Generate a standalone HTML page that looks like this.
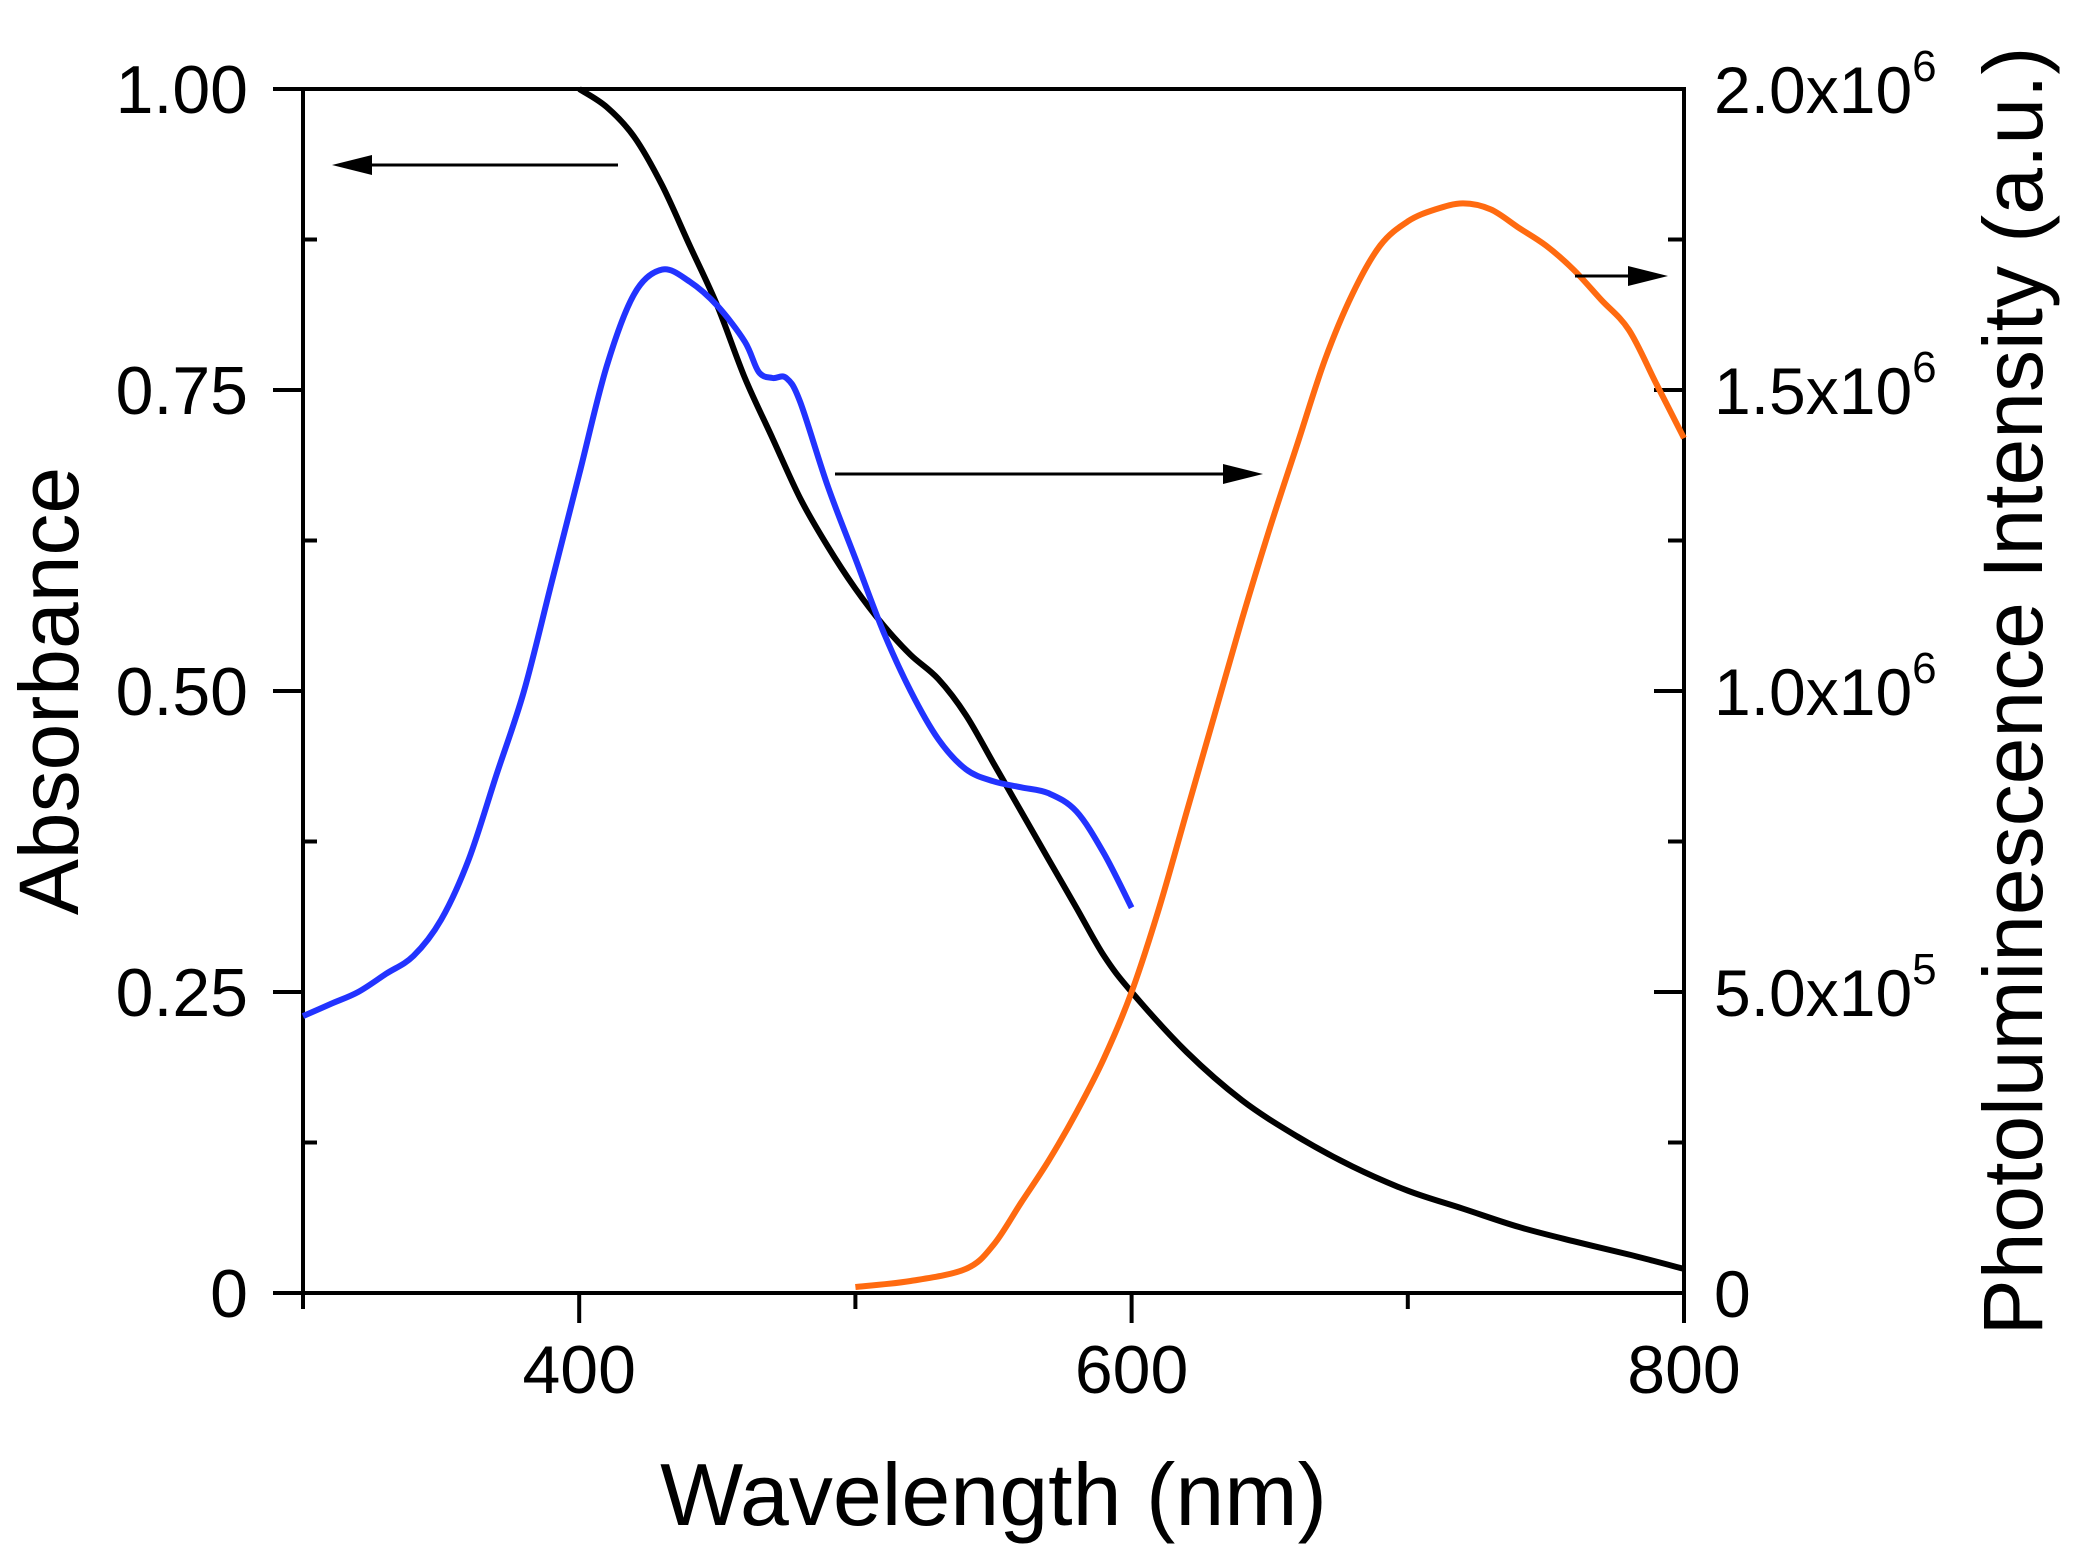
<!DOCTYPE html>
<html><head><meta charset="utf-8"><style>
html,body{margin:0;padding:0;background:#fff;}
svg{display:block;font-family:"Liberation Sans",Arial,sans-serif;}
</style></head><body>
<svg id="chart" width="2073" height="1557" viewBox="0 0 2073 1557" xmlns="http://www.w3.org/2000/svg">
<g id="axes"></g>
<g id="series"></g>
<g id="labels"></g>
</svg>
<script>
const xTicks=[400,600,800];
const xMinor=[300,500,700];
const absTicks=[0,0.25,0.5,0.75,1.0];
const absTickLabels=["0","0.25","0.50","0.75","1.00"];
const plTicks=[0,0.5,1.0,1.5,2.0];
const plTickMant=["0","5.0x10","1.0x10","1.5x10","2.0x10"];
const plTickExp=["","5","6","6","6"];
const absX=[400,410,420,430,440,450,460,470,480,490,500,510,520,530,540,550,560,570,580,590,600,620,640,660,680,700,720,740,760,780,800];
const absY=[1.0,0.985,0.96,0.92,0.87,0.82,0.76,0.71,0.66,0.62,0.585,0.555,0.53,0.51,0.48,0.44,0.40,0.36,0.32,0.28,0.25,0.20,0.16,0.13,0.105,0.085,0.07,0.055,0.043,0.032,0.02];
const exX=[300,310,320,330,340,350,360,370,380,390,400,410,420,430,440,450,460,465,470,475,480,490,500,510,520,530,540,550,560,570,580,590,600];
const exY=[0.23,0.24,0.25,0.265,0.28,0.31,0.36,0.43,0.50,0.59,0.68,0.77,0.83,0.85,0.84,0.82,0.79,0.765,0.76,0.76,0.74,0.67,0.61,0.55,0.50,0.46,0.435,0.425,0.42,0.415,0.40,0.365,0.32];
const plX=[500,520,540,550,560,570,580,590,600,610,620,630,640,650,660,670,680,690,700,710,720,730,740,750,760,770,780,790,800];
const plY=[0.01,0.02,0.04,0.08,0.15,0.22,0.30,0.39,0.50,0.64,0.80,0.96,1.12,1.27,1.41,1.55,1.66,1.74,1.78,1.80,1.81,1.80,1.77,1.74,1.70,1.65,1.60,1.51,1.42];

const L=303,R=1684,T=89,B=1293;
const sx=v=>L+(v-300)/500*(R-L);
const sA=v=>B-v*(B-T);
const sP=v=>B-v/2*(B-T);
const NS="http://www.w3.org/2000/svg";
function mk(tag,attrs,parent){const e=document.createElementNS(NS,tag);for(const k in attrs)e.setAttribute(k,attrs[k]);parent.appendChild(e);return e;}
const ax=document.getElementById('axes'),se=document.getElementById('series'),lb=document.getElementById('labels');
const frame=mk('rect',{x:L,y:T,width:R-L,height:B-T,fill:'none',stroke:'#000','stroke-width':4},ax);


xTicks.forEach(v=>{const t=mk('line',{x1:sx(v),x2:sx(v),y1:B,y2:B+30,stroke:'#000','stroke-width':4},ax);


const tx=mk('text',{x:sx(v),y:B+100,'font-size':68,'text-anchor':'middle'},lb);tx.textContent=v;

});
xMinor.forEach(v=>{const t=mk('line',{x1:sx(v),x2:sx(v),y1:B,y2:B+16,stroke:'#000','stroke-width':4},ax);

});
absTicks.forEach((v,i)=>{const t=mk('line',{x1:L-30,x2:L,y1:sA(v),y2:sA(v),stroke:'#000','stroke-width':4},ax);


const tx=mk('text',{x:L-55,y:sA(v)+24,'font-size':68,'text-anchor':'end'},lb);tx.textContent=absTickLabels[i];


if(i<absTicks.length-1){const m=mk('line',{x1:L,x2:L+14,y1:sA(v+0.125),y2:sA(v+0.125),stroke:'#000','stroke-width':4},ax);

}});
plTicks.forEach((v,i)=>{const t=mk('line',{x1:R-30,x2:R,y1:sP(v),y2:sP(v),stroke:'#000','stroke-width':4},ax);


if(i<plTicks.length-1){const m=mk('line',{x1:R-16,x2:R,y1:sP(v+0.25),y2:sP(v+0.25),stroke:'#000','stroke-width':4},ax);

}
const tx=mk('text',{x:R+30,y:sP(v)+24,'font-size':66},lb);tx.textContent=plTickMant[i];


if(plTickExp[i]){const ts=mk('tspan',{dy:-32,'font-size':44},tx);ts.textContent=plTickExp[i];}});
function line(xs,ys,sy,color,name){
const P=xs.map((x,i)=>[sx(x),sy(ys[i])]);
let d='M'+P[0][0].toFixed(1)+','+P[0][1].toFixed(1);
for(let i=0;i<P.length-1;i++){const p0=P[Math.max(0,i-1)],p1=P[i],p2=P[i+1],p3=P[Math.min(P.length-1,i+2)];
const c1=[p1[0]+(p2[0]-p0[0])/6,p1[1]+(p2[1]-p0[1])/6],c2=[p2[0]-(p3[0]-p1[0])/6,p2[1]-(p3[1]-p1[1])/6];
d+=`C${c1[0].toFixed(1)},${c1[1].toFixed(1)} ${c2[0].toFixed(1)},${c2[1].toFixed(1)} ${p2[0].toFixed(1)},${p2[1].toFixed(1)}`;}
const p=mk('path',{d:d,fill:'none',stroke:color,'stroke-width':6,'stroke-linejoin':'round'},se);

}
line(absX,absY,sA,'#000','absorbance-line');
line(exX,exY,sA,'#2233ff','excitation-line');
line(plX,plY,sP,'#ff6a10','pl-line');
function arrow(x1,y,x2,name){const g=mk('g',{},lb);
const dir=x2>x1?1:-1;mk('line',{x1:x1,x2:x2-dir*36,y1:y,y2:y,stroke:'#000','stroke-width':3},g);
mk('polygon',{points:`${x2},${y} ${x2-dir*40},${y-10} ${x2-dir*40},${y+10}`,fill:'#000'},g);}
arrow(618,165,332,'left-axis-arrow');
arrow(835,474,1263,'middle-arrow');
arrow(1575,276,1668,'right-axis-arrow');
const xt=mk('text',{x:(L+R)/2,y:1525,'font-size':88,'text-anchor':'middle'},lb);xt.textContent='Wavelength (nm)';


const yt=mk('text',{x:0,y:0,'font-size':84,'text-anchor':'middle',transform:'translate(78,691) rotate(-90)'},lb);yt.textContent='Absorbance';


const yr=mk('text',{x:0,y:0,'font-size':84,'text-anchor':'middle',transform:'translate(2042,691) rotate(-90)'},lb);yr.textContent='Photoluminescence Intensity (a.u.)';


</script>
</body></html>
